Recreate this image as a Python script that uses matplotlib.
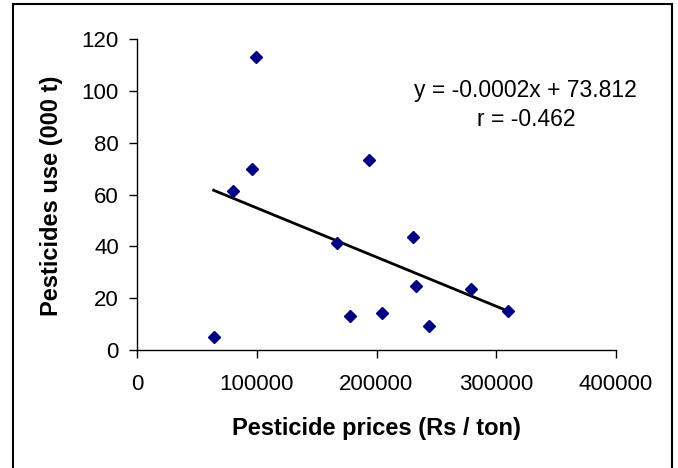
import numpy as np
import matplotlib
matplotlib.use("Agg")
import matplotlib.pyplot as plt
from matplotlib.patches import Rectangle

price = [64000, 80000, 96000, 99000, 167000, 178000, 194000, 205000,
         230500, 233000, 244000, 279000, 310000]
use = [5.1, 61.5, 69.8, 113.2, 41.2, 13.1, 73.5, 14.3,
       43.5, 24.8, 9.4, 23.7, 15.1]
xticks = [0, 100000, 200000, 300000, 400000]
yticks = [0, 20, 40, 60, 80, 100, 120]
eq_line = "y = -0.0002x + 73.812"
r_line = "r = -0.462"

plt.rcParams['font.family'] = ['Liberation Sans', 'DejaVu Sans']

W, H = 678, 468
fig = plt.figure(figsize=(W / 100, H / 100), dpi=100)
ax_l, ax_r, ax_t, ax_b = 137, 616, 39.3, 350
ax = fig.add_axes([ax_l / W, 1 - ax_b / H, (ax_r - ax_l) / W, (ax_b - ax_t) / H])

x = np.array(price, dtype=float)
y = np.array(use, dtype=float)
ax.plot(x, y, linestyle='none', marker='D', markersize=6.5,
        color='#000080', zorder=3)
m, b = np.polyfit(x, y, 1)
xs = np.array([x.min(), x.max()])
ax.plot(xs, m * xs + b, color='black', linewidth=2.0, zorder=2)

ax.set_xlim(0, 400000)
ax.set_ylim(0, 120)
ax.set_xticks(xticks)
ax.set_yticks(yticks)
ax.set_xticklabels([str(v) for v in xticks])
ax.set_yticklabels([str(v) for v in yticks])
for s in ['top', 'right']:
    ax.spines[s].set_visible(False)
for s in ['left', 'bottom']:
    ax.spines[s].set_color('black')
    ax.spines[s].set_linewidth(1.0)
ax.tick_params(direction='out', length=6, width=1.0, labelsize=16,
               colors='black')
ax.tick_params(axis='x', pad=11)
ax.tick_params(axis='y', pad=7)
ax.set_xlabel("Pesticide prices (Rs / ton)", fontsize=17, fontweight='bold')
ax.set_ylabel("Pesticides use (000 t)", fontsize=17, fontweight='bold')
h = ax_b - ax_t
w = ax_r - ax_l
ax.xaxis.label.set_va('center')
ax.xaxis.set_label_coords((376 - ax_l) / w, (ax_b - 428) / h)
ax.yaxis.label.set_va('center')
ax.yaxis.set_label_coords((52 - ax_l) / w, (ax_b - 196) / h)

fig.text(525 / W, 1 - 90 / H, eq_line, ha='center', va='center', fontsize=16.5)
fig.text(526 / W, 1 - 119 / H, r_line, ha='center', va='center', fontsize=16.5)

fig.patches.append(Rectangle((12.7 / W, -0.05), (672 - 12.7) / W,
                             1.05 - 4 / H, transform=fig.transFigure,
                             fill=False, edgecolor='black', linewidth=1.5,
                             clip_on=False))

fig.savefig("out.png", dpi=100)
